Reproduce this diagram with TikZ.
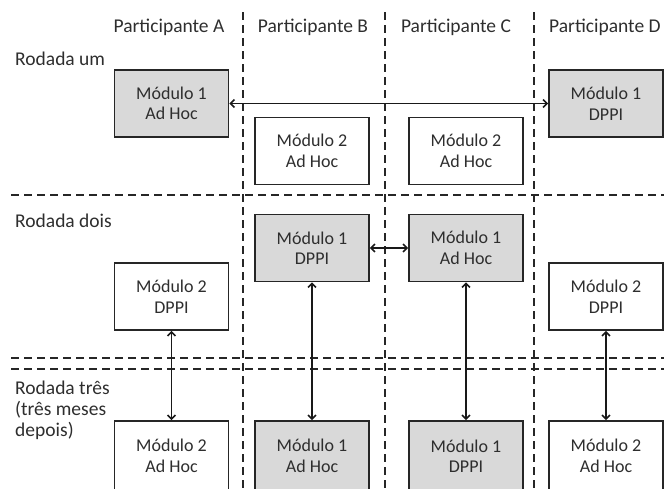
\documentclass[tikz,border=0pt]{standalone}
\usepackage{fontspec}
\setmainfont{Carlito}
\usetikzlibrary{arrows.meta}
\begin{document}
\begin{tikzpicture}[x=1pt,y=-1pt,
  txt/.style={font=\fontsize{18}{20.5}\selectfont,text=black!82},
  mod/.style={txt,draw=black!85,line width=1.7pt,minimum width=114pt,minimum height=67pt,inner sep=0pt,align=center},
  gr/.style={mod,fill=black!15},
  wh/.style={mod,fill=white},
  sepline/.style={draw=black!85,line width=1.8pt,dash pattern=on 8pt off 5pt},
  lab/.style={font=\fontsize{19.5}{21}\selectfont,text=black!82,inner sep=0pt},
  link/.style={draw=black!90,line width=1.6pt,{Straight Barb[length=4pt,width=8pt]}-{Straight Barb[length=4pt,width=8pt]}}
]
\useasboundingbox (0,0) rectangle (664,488);
\clip (0,0) rectangle (664,488);
% separators
\draw[sepline] (243,12) -- (243,488);
\draw[sepline] (385,12) -- (385,488);
\draw[sepline] (534,12) -- (534,488);
\draw[sepline] (11,195) -- (664,195);
\draw[sepline] (11,358) -- (664,358);
\draw[sepline] (11,369) -- (664,369);
% headers
\node[lab,anchor=base] (hA) at (169,32) {Participante A};
\node[lab,anchor=base] (hB) at (313,32) {Participante B};
\node[lab,anchor=base] (hC) at (456,32) {Participante C};
\node[lab,anchor=base west] (hD) at (549,32) {Participante D};
\node[lab,anchor=base west] (r1) at (15,65) {Rodada um};
\node[lab,anchor=base west] (r2) at (15,227) {Rodada dois};
\node[lab,anchor=north west,align=left] (r3) at (15,381) {Rodada três\\(três meses\\depois)};
% row 1
\node[gr] (A1) at (171.5,103.5) {Módulo 1\\Ad Hoc};
\node[wh] (B1) at (312,151) {Módulo 2\\Ad Hoc};
\node[wh] (C1) at (466,151) {Módulo 2\\Ad Hoc};
\node[gr] (D1) at (606,103.5) {Módulo 1\\DPPI};
% row 2
\node[wh] (A2) at (171.5,296.5) {Módulo 2\\DPPI};
\node[gr] (B2) at (312,248) {Módulo 1\\DPPI};
\node[gr] (C2) at (466,248) {Módulo 1\\Ad Hoc};
\node[wh] (D2) at (606,296.5) {Módulo 2\\DPPI};
% row 3
\node[wh,minimum height=70pt] (A3) at (171.5,456) {Módulo 2\\Ad Hoc};
\node[gr,minimum height=70pt] (B3) at (312,456) {Módulo 1\\Ad Hoc};
\node[gr,minimum height=70pt] (C3) at (466,456) {Módulo 1\\DPPI};
\node[wh,minimum height=70pt] (D3) at (606,456) {Módulo 2\\Ad Hoc};
% links
\draw[link] (A1) -- (D1);
\draw[link] (B2) -- (C2);
\draw[link] (A2) -- (A3);
\draw[link] (B2) -- (B3);
\draw[link] (C2) -- (C3);
\draw[link] (D2) -- (D3);
\end{tikzpicture}
\end{document}
